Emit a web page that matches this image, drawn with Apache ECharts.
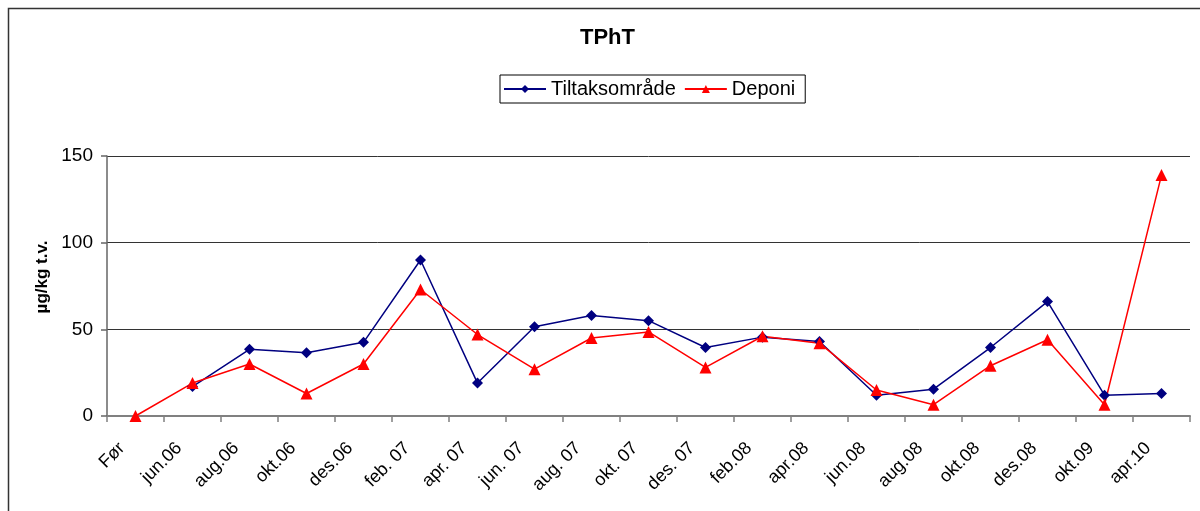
<!DOCTYPE html>
<html>
<head>
<meta charset="utf-8">
<script src="https://cdn.jsdelivr.net/npm/echarts@6/dist/echarts.min.js"></script>
<style>
  html, body { margin: 0; padding: 0; background: #fff; }
  #chart { width: 1200px; height: 511px; }
</style>
</head>
<body>
<div id="chart"></div>
<script>
// Sampling dates (x axis)
const categories = ['Før', 'jun.06', 'aug.06', 'okt.06', 'des.06', 'feb. 07', 'apr. 07', 'jun. 07',
  'aug. 07', 'okt. 07', 'des. 07', 'feb.08', 'apr.08', 'jun.08', 'aug.08', 'okt.08', 'des.08',
  'okt.09', 'apr.10'];

// TPhT concentrations, µg/kg dry weight
const tiltaksomrade = [null, 17, 38.5, 36.5, 42.5, 90, 19, 51.5, 58, 55, 39.5, 45.5, 43, 12, 15.5,
  39.5, 66, 12, 13];
const deponi = [0, 19, 30, 13, 30, 73, 47, 27, 45, 48.5, 28, 46, 42, 15, 6.5, 29, 44, 6.5, 139];

// Value axis ticks
const yTicks = [0, 50, 100, 150];

const FONT = '"Liberation Sans", Arial, sans-serif';

const chart = echarts.init(document.getElementById('chart'), null, { renderer: 'canvas' });

chart.setOption({
  backgroundColor: '#ffffff',
  animation: false,
  title: {
    text: 'TPhT',
    left: 580,
    top: 27,
    padding: 0,
    textStyle: { fontFamily: FONT, fontSize: 22, fontWeight: 'bold', color: '#000' }
  },
  legend: {
    left: 500,
    top: 75,
    orient: 'horizontal',
    padding: [4, 10, 4, 3],
    borderColor: '#000',
    borderWidth: 1,
    itemWidth: 42,
    itemHeight: 10,
    itemGap: 8,
    textStyle: { fontFamily: FONT, fontSize: 20, color: '#000' },
    data: ['Tiltaksområde', 'Deponi']
  },
  grid: {
    left: 107,
    right: 10,
    top: 156,
    bottom: 95,
    containLabel: false
  },
  xAxis: {
    type: 'category',
    data: categories,
    boundaryGap: true,
    axisLine: { show: true, lineStyle: { color: '#808080', width: 2 } },
    axisTick: { show: true, inside: false, length: 6, lineStyle: { color: '#808080', width: 1.5 } },
    axisLabel: {
      interval: 0,
      rotate: 45,
      margin: 16,
      padding: [0, 19, 0, 0],
      fontFamily: FONT,
      fontSize: 18,
      color: '#000'
    },
    splitLine: { show: false }
  },
  yAxis: {
    type: 'value',
    min: yTicks[0],
    max: yTicks[yTicks.length - 1],
    interval: yTicks[1] - yTicks[0],
    name: 'µg/kg t.v.',
    nameLocation: 'middle',
    nameGap: 56,
    nameRotate: 90,
    nameTextStyle: {
      fontFamily: FONT, fontSize: 17, fontWeight: 'bold', color: '#000',
      padding: [0, 0, 0, 18]
    },
    axisLine: { show: true, lineStyle: { color: '#666', width: 1.5 } },
    axisTick: { show: true, inside: false, length: 6, lineStyle: { color: '#666', width: 1.5 } },
    axisLabel: { margin: 14, fontFamily: FONT, fontSize: 19, color: '#000' },
    splitLine: { show: true, lineStyle: { color: '#333', width: 1 } }
  },
  series: [
    {
      name: 'Tiltaksområde',
      type: 'line',
      data: tiltaksomrade,
      connectNulls: false,
      symbol: 'diamond',
      symbolSize: 11,
      itemStyle: { color: '#000080' },
      lineStyle: { color: '#000080', width: 1.5 }
    },
    {
      name: 'Deponi',
      type: 'line',
      data: deponi,
      symbol: 'triangle',
      symbolSize: 12,
      itemStyle: { color: '#ff0000' },
      lineStyle: { color: '#ff0000', width: 1.5 }
    }
  ],
  graphic: [
    {
      type: 'rect',
      silent: true,
      shape: { x: 8.5, y: 8.5, width: 1300, height: 700 },
      style: { fill: null, stroke: '#333', lineWidth: 1.5 }
    }
  ]
});
</script>
</body>
</html>
